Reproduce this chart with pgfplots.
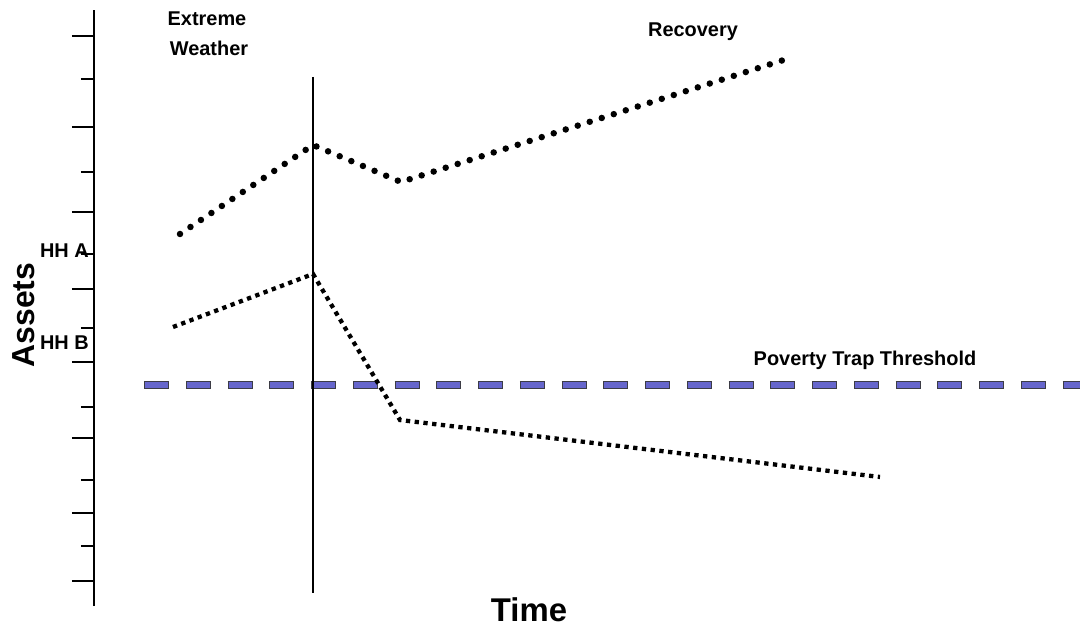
\documentclass[border=0pt]{standalone}
\usepackage{pgfplots}
\pgfplotsset{compat=1.18}
\usepackage{fontspec}
\setmainfont{Liberation Sans}
\definecolor{trapblue}{RGB}{102,102,204}
\definecolor{trapedge}{RGB}{60,60,70}
\begin{document}
\begin{tikzpicture}
\begin{axis}[
  scale only axis, width=986bp, height=596bp,
  xmin=94, xmax=1080, ymin=21, ymax=617,
  axis x line=none, axis y line*=left, clip=false,
  ytick={591,500,415,338,265,189,114,46},
  minor ytick={548,455,373,299,220,147,81},
  yticklabels={},
  tick align=outside,
  major tick length=22bp, minor tick length=13bp,
  every tick/.style={black, line width=1.3bp},
  axis line style={black, line width=1.5bp},
  font=\bfseries\fontsize{20}{24}\selectfont,
]
% threshold
\addplot[draw=trapedge, line width=7.5bp, dash pattern=on 25bp off 16.75bp] coordinates {(144,242) (1080,242)};
\addplot[draw=trapblue, line width=5.5bp, dash pattern=on 23bp off 18.75bp] coordinates {(145,242) (1080,242)};
% event line
\addplot[black, line width=1.5bp] coordinates {(313,550) (313,34)};
% HH A
\addplot[black, line width=6.5bp, line cap=round, dash pattern=on 0bp off 12.6bp] coordinates {(180,393) (313,482) (401,445) (793,570)};
% HH B
\addplot[black, line width=4.3bp, dash pattern=on 4.3bp off 4.5bp] coordinates {(173,300) (313,353) (400,207) (880,150)};
% texts
\node[anchor=base] at (axis cs:207,601) {Extreme};
\node[anchor=base] at (axis cs:209,571) {Weather};
\node[anchor=base] at (axis cs:693,590) {Recovery};
\node[anchor=base] at (axis cs:865,261) {Poverty Trap Threshold};
\node[anchor=base east, inner sep=0pt] at (axis cs:89,369) {HH A};
\node[anchor=base east, inner sep=0pt] at (axis cs:89,277) {HH B};
\node[anchor=base, inner sep=0pt, font=\bfseries\fontsize{33}{40}\selectfont] at (axis cs:529,6) {Time};
\node[anchor=base, rotate=90, font=\bfseries\fontsize{32}{38}\selectfont] at (axis cs:35,312) {Assets};
\coordinate (BL) at (axis cs:0,0);
\coordinate (TR) at (axis cs:1080,627);
\end{axis}
\pgfresetboundingbox
\path (BL) rectangle (TR);
\end{tikzpicture}
\end{document}
